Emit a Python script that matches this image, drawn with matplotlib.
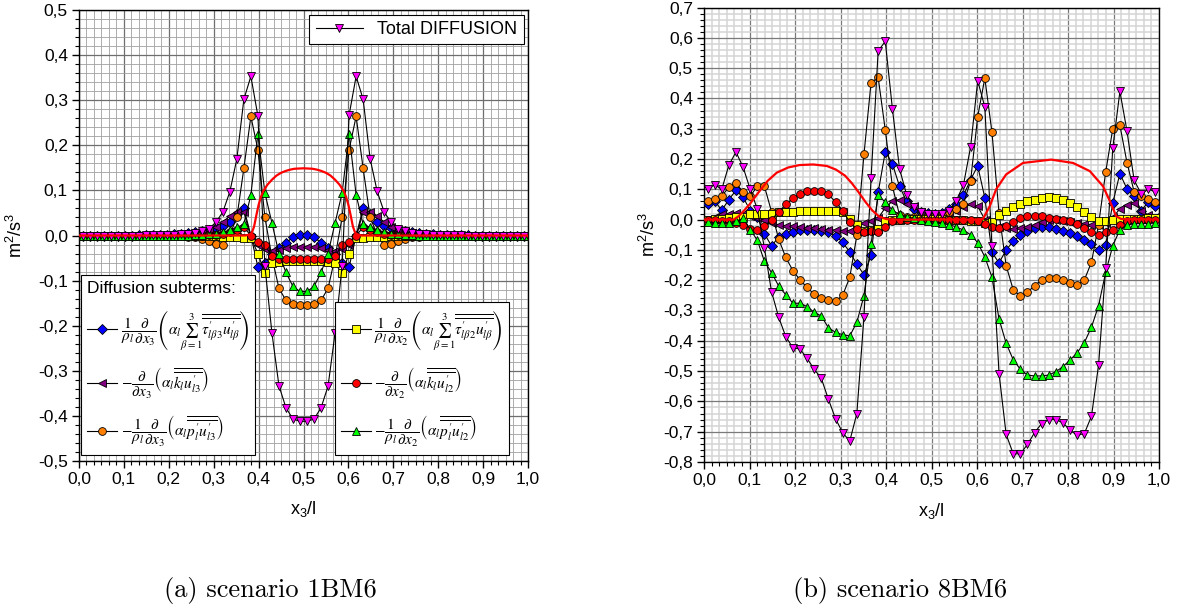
import numpy as np
import matplotlib
matplotlib.use("Agg")
import matplotlib.pyplot as plt
from matplotlib.lines import Line2D
from matplotlib.ticker import MultipleLocator, FixedLocator

plt.rcParams['font.family'] = ['Liberation Sans', 'DejaVu Sans']
plt.rcParams['mathtext.fontset'] = 'stix'

# ---------------- data ----------------
N_POINTS = 64
x_pts = [(i + 0.5) / N_POINTS for i in range(N_POINTS)]

# scenario 1BM6 (left)
a_total = [0, 0, 0, 0, 0, 0, 0, 0, 0, 0.001,
           0.001, 0.001, 0.002, 0.002, 0.003, 0.004, 0.006, 0.009, 0.015, 0.029,
           0.052, 0.097, 0.170, 0.302, 0.353, 0.265, -0.068, -0.216, -0.333, -0.382,
           -0.407, -0.412, -0.412, -0.407, -0.382, -0.334, -0.216, -0.068, 0.267, 0.353,
           0.302, 0.170, 0.098, 0.052, 0.029, 0.015, 0.009, 0.006, 0.004, 0.003,
           0.002, 0.002, 0.001, 0.001, 0.001, 0, 0, 0, 0, 0,
           0, 0, 0, 0]
a_visc3 = [0, 0, 0, 0, 0, 0, 0, 0, 0.001, 0.001,
           0.001, 0.002, 0.002, 0.003, 0.004, 0.005, 0.007, 0.009, 0.012, 0.016,
           0.021, 0.030, 0.048, 0.060, 0.000, -0.070, -0.060, -0.042, -0.028, -0.016,
           -0.004, 0.001, 0.001, -0.004, -0.016, -0.028, -0.042, -0.060, -0.070, 0.000,
           0.060, 0.048, 0.030, 0.021, 0.016, 0.012, 0.009, 0.007, 0.005, 0.004,
           0.003, 0.002, 0.002, 0.001, 0.001, 0.001, 0, 0, 0, 0,
           0, 0, 0, 0]
a_k3 = [0, 0, 0, 0, 0, 0, 0, 0, 0, 0,
        0, 0, 0.001, 0.001, 0.002, 0.004, 0.006, 0.009, 0.013, 0.019,
        0.030, 0.043, 0.052, 0.053, -0.005, -0.020, -0.030, -0.034, -0.032, -0.028,
        -0.026, -0.025, -0.025, -0.026, -0.028, -0.032, -0.034, -0.030, -0.020, -0.005,
        0.053, 0.052, 0.043, 0.030, 0.019, 0.013, 0.009, 0.006, 0.004, 0.002,
        0.001, 0.001, 0, 0, 0, 0, 0, 0, 0, 0,
        0, 0, 0, 0]
a_p3 = [0, 0, 0, 0, 0, 0, 0, 0, 0, 0,
        0, 0, -0.001, -0.001, -0.002, -0.003, -0.004, -0.008, -0.013, -0.018,
        -0.022, 0.002, 0.040, 0.149, 0.264, 0.190, 0.040, -0.048, -0.117, -0.144,
        -0.151, -0.153, -0.153, -0.151, -0.144, -0.117, -0.048, 0.040, 0.190, 0.264,
        0.149, 0.040, 0.002, -0.022, -0.018, -0.013, -0.008, -0.004, -0.003, -0.002,
        -0.001, -0.001, 0, 0, 0, 0, 0, 0, 0, 0,
        0, 0, 0, 0]
a_visc2 = [0, 0, 0, 0, 0, 0, 0, 0, 0, 0,
           0, 0, 0, 0, 0, 0, 0, 0, -0.001, -0.002,
           -0.003, -0.004, -0.004, -0.005, -0.005, -0.040, -0.084, -0.062, -0.058, -0.057,
           -0.057, -0.057, -0.057, -0.057, -0.057, -0.058, -0.062, -0.084, -0.040, -0.005,
           -0.005, -0.004, -0.004, -0.003, -0.002, -0.001, 0, 0, 0, 0,
           0, 0, 0, 0, 0, 0, 0, 0, 0, 0,
           0, 0, 0, 0]
a_k2 = [0, 0, 0, 0, 0, 0, 0, 0, 0, 0,
        0, 0, 0, 0, 0, 0, 0, 0, 0.001, 0.002,
        0.004, 0.007, 0.012, 0.018, 0.000, -0.015, -0.022, -0.045, -0.052, -0.053,
        -0.053, -0.053, -0.053, -0.053, -0.053, -0.052, -0.045, -0.022, -0.015, 0.000,
        0.018, 0.012, 0.007, 0.004, 0.002, 0.001, 0, 0, 0, 0,
        0, 0, 0, 0, 0, 0, 0, 0, 0, 0,
        0, 0, 0, 0]
a_p2 = [0, 0, 0, 0, 0, 0, 0, 0, 0, 0,
        0, 0, 0, 0, 0, 0, 0.001, 0.002, 0.003, 0.004,
        0.007, 0.012, 0.018, 0.025, 0.090, 0.225, 0.094, 0.028, -0.040, -0.082,
        -0.113, -0.124, -0.124, -0.113, -0.082, -0.040, 0.028, 0.094, 0.225, 0.090,
        0.025, 0.018, 0.012, 0.007, 0.004, 0.003, 0.002, 0.001, 0, 0,
        0, 0, 0, 0, 0, 0, 0, 0, 0, 0,
        0, 0, 0, 0]
a_red_x = [0.0, 0.37, 0.38, 0.385, 0.39, 0.395, 0.40, 0.405, 0.41, 0.42, 0.43, 0.44,
           0.45, 0.46, 0.47, 0.48, 0.50, 0.52, 0.53, 0.54, 0.55, 0.56, 0.57, 0.58,
           0.59, 0.595, 0.60, 0.605, 0.61, 0.615, 0.62, 0.63, 1.0]
a_red_y = [0.0, 0.0, 0.002, 0.006, 0.02, 0.045, 0.068, 0.085, 0.098, 0.113, 0.124, 0.133,
           0.139, 0.143, 0.146, 0.148, 0.149, 0.148, 0.146, 0.143, 0.139, 0.133, 0.124, 0.113,
           0.098, 0.085, 0.068, 0.045, 0.02, 0.006, 0.002, 0.0, 0.0]

# scenario 8BM6 (right)
b_total = [0.102, 0.115, 0.100, 0.180, 0.223, 0.173, 0.100, 0.035, -0.094, -0.238,
           -0.322, -0.386, -0.423, -0.427, -0.458, -0.494, -0.524, -0.593, -0.657, -0.703,
           -0.731, -0.640, -0.320, 0.136, 0.557, 0.588, 0.366, 0.168, 0.082, 0.040,
           0.025, 0.020, 0.018, 0.018, 0.030, 0.063, 0.115, 0.240, 0.458, 0.372,
           -0.086, -0.508, -0.709, -0.773, -0.773, -0.742, -0.703, -0.673, -0.660, -0.660,
           -0.671, -0.695, -0.712, -0.706, -0.649, -0.480, -0.160, 0.237, 0.423, 0.292,
           0.130, 0.085, 0.100, 0.092]
b_visc3 = [0.053, 0.061, 0.031, 0.066, 0.097, 0.074, 0.030, 0.010, -0.047, -0.087,
           -0.058, -0.047, -0.041, -0.035, -0.035, -0.033, -0.036, -0.042, -0.053, -0.075,
           -0.107, -0.147, -0.182, -0.118, 0.090, 0.224, 0.184, 0.110, 0.060, 0.035,
           0.025, 0.022, 0.020, 0.022, 0.036, 0.053, 0.080, 0.132, 0.177, 0.072,
           -0.108, -0.143, -0.100, -0.072, -0.052, -0.036, -0.028, -0.026, -0.026, -0.030,
           -0.036, -0.044, -0.055, -0.068, -0.082, -0.100, -0.083, 0.055, 0.152, 0.101,
           0.077, 0.030, 0.058, 0.045]
b_k3 = [0.000, 0.009, 0.017, 0.020, 0.022, 0.017, 0.012, 0.005, 0.000, -0.011,
        -0.017, -0.020, -0.022, -0.024, -0.028, -0.028, -0.031, -0.033, -0.035, -0.036,
        -0.039, -0.025, -0.010, -0.003, 0.005, 0.039, 0.061, 0.066, 0.050, 0.044,
        0.024, 0.017, 0.015, 0.018, 0.022, 0.030, 0.040, 0.050, 0.044, 0.000,
        -0.022, -0.024, -0.028, -0.031, -0.028, -0.024, -0.018, -0.008, 0.000, 0.000,
        -0.003, -0.008, -0.011, -0.013, -0.017, -0.017, -0.012, 0.008, 0.035, 0.048,
        0.055, 0.030, 0.015, 0.008]
b_p3 = [0.061, 0.068, 0.077, 0.108, 0.122, 0.090, 0.077, 0.110, 0.110, 0.026,
        -0.064, -0.125, -0.168, -0.199, -0.224, -0.246, -0.259, -0.265, -0.270, -0.250,
        -0.191, -0.052, 0.215, 0.452, 0.469, 0.295, 0.110, 0.015, 0.010, 0.010,
        0.010, 0.012, 0.015, 0.020, 0.025, 0.035, 0.053, 0.128, 0.340, 0.467,
        0.289, 0.022, -0.152, -0.232, -0.252, -0.240, -0.218, -0.199, -0.193, -0.193,
        -0.199, -0.210, -0.215, -0.199, -0.141, -0.017, 0.157, 0.300, 0.311, 0.188,
        0.092, 0.077, 0.068, 0.057]
b_visc2 = [0.000, 0.002, 0.003, 0.005, 0.008, 0.010, 0.020, 0.018, 0.017, 0.020,
           0.024, 0.024, 0.025, 0.028, 0.030, 0.027, 0.030, 0.030, 0.028, 0.024,
           0.003, -0.017, -0.037, -0.035, -0.030, -0.005, 0.000, 0.000, 0.001, 0.001,
           0.001, 0.001, 0.001, 0.001, 0.000, 0.000, -0.002, -0.004, -0.006, -0.010,
           -0.008, 0.015, 0.030, 0.042, 0.052, 0.060, 0.066, 0.072, 0.075, 0.072,
           0.065, 0.055, 0.042, 0.025, 0.007, -0.003, -0.004, 0.000, 0.002, 0.002,
           0.002, 0.003, 0.004, 0.005]
b_k2 = [0.000, -0.002, -0.003, -0.005, -0.010, -0.019, -0.031, -0.033, -0.022, 0.000,
        0.025, 0.050, 0.070, 0.085, 0.093, 0.096, 0.093, 0.083, 0.058, 0.030,
        -0.008, -0.030, -0.040, -0.038, -0.042, -0.025, -0.005, 0.000, 0.000, 0.000,
        0.000, 0.000, 0.000, 0.000, 0.000, 0.000, -0.001, -0.002, -0.003, -0.013,
        -0.024, -0.028, -0.022, -0.009, 0.006, 0.011, 0.013, 0.011, 0.006, 0.002,
        0.000, -0.006, -0.013, -0.028, -0.041, -0.050, -0.041, -0.033, -0.017, -0.006,
        -0.002, 0.000, 0.000, 0.000]
b_p2 = [-0.008, -0.010, -0.010, -0.010, -0.006, 0.004, -0.033, -0.068, -0.138, -0.175,
        -0.219, -0.248, -0.276, -0.276, -0.287, -0.306, -0.318, -0.357, -0.372, -0.380,
        -0.384, -0.339, -0.251, -0.080, 0.080, 0.058, 0.031, 0.017, 0.008, 0.004,
        0.000, -0.004, -0.008, -0.011, -0.017, -0.024, -0.035, -0.050, -0.076, -0.123,
        -0.190, -0.328, -0.408, -0.463, -0.494, -0.513, -0.516, -0.516, -0.513, -0.502,
        -0.485, -0.463, -0.439, -0.406, -0.355, -0.284, -0.174, -0.086, -0.033, -0.018,
        -0.014, -0.013, -0.013, -0.010]
b_red_x = [0.0, 0.065, 0.075, 0.085, 0.10, 0.12, 0.14, 0.16, 0.185, 0.21, 0.24, 0.27,
           0.29, 0.31, 0.325, 0.34, 0.355, 0.37, 0.385, 0.40, 0.41, 0.60, 0.613, 0.628,
           0.642, 0.664, 0.701, 0.763, 0.811, 0.848, 0.877, 0.892, 0.906, 0.917, 1.0]
b_red_y = [0.0, 0.0, 0.01, 0.025, 0.05, 0.09, 0.128, 0.155, 0.172, 0.18, 0.182, 0.177,
           0.165, 0.145, 0.12, 0.09, 0.058, 0.03, 0.01, 0.002, 0.0, 0.0, 0.002, 0.044,
           0.1, 0.149, 0.187, 0.198, 0.187, 0.16, 0.11, 0.061, 0.011, 0.002, 0.0]

left_yticks = [-0.5, -0.4, -0.3, -0.2, -0.1, 0.0, 0.1, 0.2, 0.3, 0.4, 0.5]
right_yticks = [-0.8, -0.7, -0.6, -0.5, -0.4, -0.3, -0.2, -0.1, 0.0, 0.1, 0.2, 0.3, 0.4, 0.5, 0.6, 0.7]
xticks = [0.0, 0.1, 0.2, 0.3, 0.4, 0.5, 0.6, 0.7, 0.8, 0.9, 1.0]

# ---------------- styles ----------------
styles = {
    'visc3': dict(marker='D', mfc='#0000ff', ms=5.0),
    'k3': dict(marker='<', mfc='#800080', ms=6.0),
    'p3': dict(marker='o', mfc='#ff8000', ms=5.6),
    'visc2': dict(marker='s', mfc='#ffff00', ms=5.2),
    'k2': dict(marker='o', mfc='#ff0000', ms=5.6),
    'p2': dict(marker='^', mfc='#00ff00', ms=6.0),
    'total': dict(marker='v', mfc='#ff00ff', ms=6.0),
}
labels = {
    'visc3': r'$\dfrac{1}{\rho_l}\dfrac{\partial}{\partial x_3}\left(\alpha_l\sum_{\beta=1}^{3}\overline{\overline{\tau^{\prime}_{l\beta 3}u^{\prime}_{l\beta}}}\right)$',
    'k3': r'$-\dfrac{\partial}{\partial x_3}\left(\alpha_l\overline{\overline{k_l u^{\prime}_{l3}}}\right)$',
    'p3': r'$-\dfrac{1}{\rho_l}\dfrac{\partial}{\partial x_3}\left(\alpha_l\overline{\overline{p^{\prime}_l u^{\prime}_{l3}}}\right)$',
    'visc2': r'$\dfrac{1}{\rho_l}\dfrac{\partial}{\partial x_2}\left(\alpha_l\sum_{\beta=1}^{3}\overline{\overline{\tau^{\prime}_{l\beta 2}u^{\prime}_{l\beta}}}\right)$',
    'k2': r'$-\dfrac{\partial}{\partial x_2}\left(\alpha_l\overline{\overline{k_l u^{\prime}_{l2}}}\right)$',
    'p2': r'$-\dfrac{1}{\rho_l}\dfrac{\partial}{\partial x_2}\left(\alpha_l\overline{\overline{p^{\prime}_l u^{\prime}_{l2}}}\right)$',
}


def draw(ax, series, red_x, red_y):
    for key in ['visc3', 'k3', 'p3', 'visc2', 'k2', 'p2', 'total']:
        st = styles[key]
        ax.plot(x_pts, series[key], color='black', lw=0.8, marker=st['marker'],
                mfc=st['mfc'], mec='black', mew=0.6, ms=st['ms'], zorder=3)
    ax.plot(red_x, red_y, color='#ff0000', lw=1.6, zorder=4)


def style_axes(ax, yticks, ylim, minor_color, minor_lw, major_color):
    ax.set_xlim(0, 1)
    ax.set_ylim(*ylim)
    ax.xaxis.set_major_locator(FixedLocator(xticks))
    ax.yaxis.set_major_locator(FixedLocator(yticks))
    ax.xaxis.set_minor_locator(MultipleLocator(0.1 / 6))
    ax.yaxis.set_minor_locator(MultipleLocator(0.02))
    ax.set_xticklabels([f'{v:.1f}'.replace('.', ',') for v in xticks])
    ax.set_yticklabels([f'{v:.1f}'.replace('.', ',') for v in yticks])
    ax.grid(which='minor', color=minor_color, lw=minor_lw, zorder=0)
    ax.grid(which='major', color=major_color, lw=0.9, zorder=0)
    ax.set_axisbelow(True)
    ax.tick_params(which='major', direction='out', length=5, width=1, labelsize=12.5,
                   top=False, right=False, pad=3)
    ax.tick_params(which='minor', direction='out', length=3, width=0.8, top=False, right=False)
    for sp in ax.spines.values():
        sp.set_linewidth(1.0)
        sp.set_color('black')
    ax.set_ylabel(r'$\mathregular{m^2/s^3}$', fontsize=13)
    ax.set_xlabel(r'$\mathregular{x_3/l}$', fontsize=13)


fig = plt.figure(figsize=(11.84, 6.12), dpi=100)
axL = fig.add_axes([79 / 1184, 1 - 461 / 612, 449 / 1184, 451 / 612])
axR = fig.add_axes([704 / 1184, 1 - 462 / 612, 455 / 1184, 454.5 / 612])

left_series = dict(total=a_total, visc3=a_visc3, k3=a_k3, p3=a_p3, visc2=a_visc2, k2=a_k2, p2=a_p2)
right_series = dict(total=b_total, visc3=b_visc3, k3=b_k3, p3=b_p3, visc2=b_visc2, k2=b_k2, p2=b_p2)

draw(axL, left_series, a_red_x, a_red_y)
draw(axR, right_series, b_red_x, b_red_y)

style_axes(axL, left_yticks, (-0.5, 0.5), '#a0a0a0', 0.6, '#6e6e6e')
style_axes(axR, right_yticks, (-0.8, 0.7), '#d4d4d4', 1.1, '#7a7a7a')

axL.yaxis.set_label_coords(-0.118, 0.5)
axR.yaxis.set_label_coords(-0.098, 0.5)
axL.xaxis.set_label_coords(0.5, -0.085)
axR.xaxis.set_label_coords(0.5, -0.085)


def handle(key):
    st = styles[key]
    return Line2D([], [], color='black', lw=0.8, marker=st['marker'], mfc=st['mfc'],
                  mec='black', mew=0.6, ms=st['ms'])


leg_total = axL.legend([handle('total')], ['Total DIFFUSION'], loc='upper right',
                       bbox_to_anchor=(0.99, 0.99), borderaxespad=0, fontsize=13,
                       frameon=True, fancybox=False, edgecolor='black', framealpha=1,
                       handlelength=2.6, borderpad=0.35)
leg_total.get_frame().set_linewidth(0.8)
axL.add_artist(leg_total)

leg_kw = dict(borderaxespad=0, fontsize=11, frameon=True, fancybox=False,
              edgecolor='black', framealpha=1, handlelength=2.0, handletextpad=0.2,
              labelspacing=0.8, borderpad=0.4)

leg1 = axL.legend([handle(k) for k in ['visc3', 'k3', 'p3']],
                  [labels[k] for k in ['visc3', 'k3', 'p3']],
                  title='Diffusion subterms:', title_fontsize=12.5, alignment='left',
                  loc='lower left', bbox_to_anchor=(0.004, 0.013), **leg_kw)
leg1.get_frame().set_linewidth(0.8)
axL.add_artist(leg1)

leg2 = axL.legend([handle(k) for k in ['visc2', 'k2', 'p2']],
                  [labels[k] for k in ['visc2', 'k2', 'p2']],
                  loc='lower right', bbox_to_anchor=(0.958, 0.013), **leg_kw)
leg2.get_frame().set_linewidth(0.8)

fig.text(270 / 1184, 1 - 590 / 612, '(a) scenario 1BM6', family='cmr10', fontsize=19,
         ha='center', va='center')
fig.text(900 / 1184, 1 - 590 / 612, '(b) scenario 8BM6', family='cmr10', fontsize=19,
         ha='center', va='center')

fig.savefig('out.png', dpi=100)
